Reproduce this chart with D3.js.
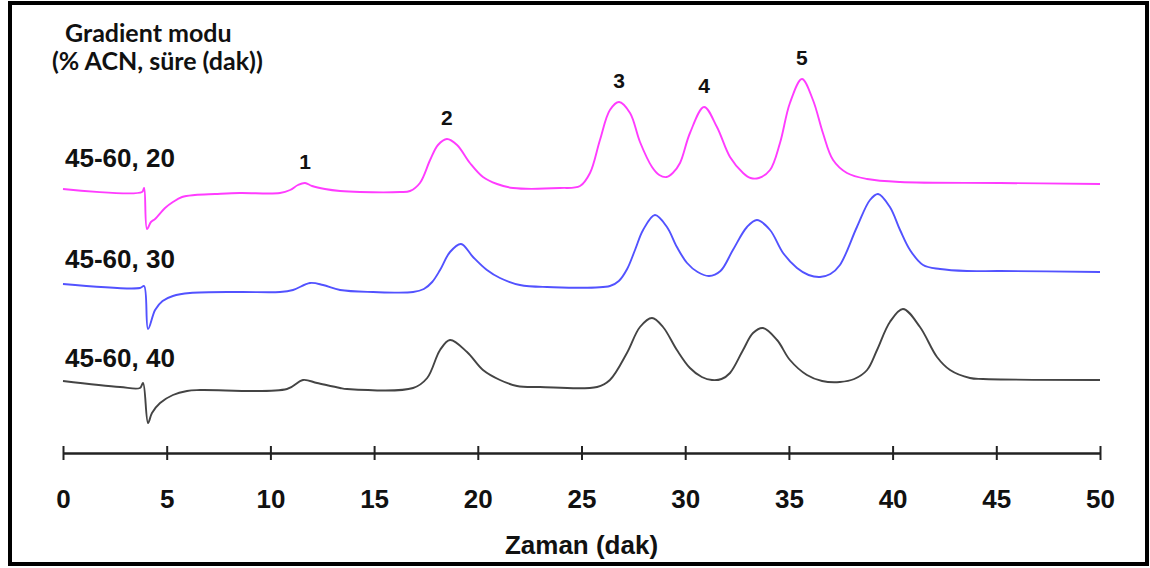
<!DOCTYPE html>
<html>
<head>
<meta charset="utf-8">
<script src="https://cdn.jsdelivr.net/npm/d3@7"></script>
<style>
  html, body { margin: 0; padding: 0; background: #fff; }
  svg { display: block; }
</style>
</head>
<body>
<svg id="chart" width="1150" height="568"></svg>
<script>
// ---- Data (time in min, signal in arbitrary mAU relative to each trace baseline) ----
const traceLabels = ["45-60, 20", "45-60, 30", "45-60, 40"];
const traceColors = ["#ff3cff", "#5252ff", "#444444"];
const traceOffsets = [131, 80.5, 31];

const trace20 = [
  [0.0,-0.5],[3.81,-2],[3.91,0],[4.05,-20.5],[4.24,-17],[4.44,-15.5],[4.92,-10],[5.30,-7],
  [5.74,-4.5],[6.36,-3.5],[7.33,-3],[8.53,-2.5],[10.46,-2.5],[10.95,-1],[11.33,1.5],[11.67,2.5],
  [12.01,1],[12.63,-0.5],[13.36,-1.5],[14.32,-2],[16.25,-2],[16.73,-1.5],[17.21,2.5],[17.70,14],
  [18.08,21.5],[18.51,24.5],[19.00,21.5],[19.62,12.5],[20.25,5.5],[20.93,2],[21.70,0],[23.96,0],
  [24.93,1],[25.41,7.5],[25.89,24],[26.37,39],[26.81,43],[27.34,37.5],[27.82,23],[28.40,10.5],
  [28.75,6.5],[29.10,5.5],[29.40,7.5],[29.75,12.5],[30.23,27.5],[30.91,40.5],[31.53,30.5],
  [32.16,15.5],[32.79,7.5],[33.15,5],[33.55,5],[34.09,9],[34.57,22.5],[35.05,42.5],[35.63,54.5],
  [36.16,44],[36.64,27.5],[37.13,14],[37.80,7.5],[38.77,4.5],[40.36,3],[45.18,2.5],[50.0,2]
];
const trace30 = [
  [0.0,2.5],[3.71,0.5],[3.91,1.5],[4.10,-20],[4.44,-10.5],[4.80,-6],[5.30,-3.5],[6.12,-2],
  [8.53,-1.5],[10.46,-1.5],[11.09,-0.5],[11.91,3],[12.54,2],[13.36,-0.5],[14.95,-1.5],[16.88,-1.5],
  [17.40,0],[17.80,3.5],[18.18,9.5],[18.66,18.5],[19.19,22.5],[19.77,16],[20.44,9.5],[21.07,5.5],
  [22.03,2],[23.34,1],[26.37,1.5],[26.80,4],[27.20,10],[27.58,19.5],[27.97,29.5],[28.54,37],
  [29.12,31],[29.60,21],[30.09,13],[30.60,8.5],[31.15,6.5],[31.70,9],[32.30,19.5],[32.98,31],
  [33.46,34.5],[34.09,29.5],[34.72,18],[35.39,10.5],[35.95,7],[36.50,6],[37.00,7.5],[37.46,12],
  [38.28,31],[38.91,44.5],[39.30,47.5],[39.87,41],[40.36,29.5],[40.84,19.5],[41.47,12],[42.29,10],
  [43.59,9],[45.18,9],[50.0,8.5]
];
const trace40 = [
  [0.0,3.5],[2.75,0.5],[3.71,0],[3.86,2.5],[4.10,-17.5],[4.29,-12.5],[4.68,-7.5],[5.30,-3.5],
  [5.98,-1.5],[6.61,-1],[10.80,-0.5],[11.57,4],[12.25,2.5],[13.36,0],[13.69,-0.5],[16.88,0],
  [17.56,5],[18.18,19],[18.66,24],[19.48,18],[20.25,9],[21.07,4],[21.89,1],[23.0,0.5],[25.75,0.5],
  [26.37,4],[27.19,17.5],[27.82,30.5],[28.40,35],[28.93,30.5],[29.60,19],[30.23,10],[30.80,5.5],
  [31.29,4],[31.75,4.5],[32.16,7.5],[32.79,19],[33.27,27.5],[33.75,30],[34.43,24],[35.05,14],
  [35.87,6.5],[36.60,3.5],[37.46,3],[38.15,4.5],[38.77,9],[39.25,19],[39.87,33],[40.50,39.5],
  [41.32,30.5],[42.14,15.5],[42.77,9],[43.73,5],[44.36,4.5],[50.0,4]
];
const traces = [trace20, trace30, trace40];

const peakNumbers = ["1", "2", "3", "4", "5"];
const peakTimes = [11.67, 18.51, 26.81, 30.91, 35.63];
const peakHeights = [2.5, 24.5, 43, 40.5, 54.5];

const xTicks = [0, 5, 10, 15, 20, 25, 30, 35, 40, 45, 50];
const xTitle = "Zaman (dak)";
const legendTitle = ["Gradient modu", "(% ACN, süre (dak))"];

// ---- Drawing ----
const svg = d3.select("#chart");
const x = d3.scaleLinear().domain([0, 50]).range([63, 1100]);
const y = d3.scaleLinear().domain([0, 200]).range([450, 50]);
const font = "'Liberation Sans', Arial, sans-serif";

// frame
svg.append("rect")
  .attr("x", 10).attr("y", 3).attr("width", 1137).attr("height", 561)
  .attr("fill", "none").attr("stroke", "#000").attr("stroke-width", 4);

// legend title
svg.append("g").selectAll("text").data(legendTitle).join("text")
  .attr("x", (d, i) => i === 0 ? 65 : 52)
  .attr("y", (d, i) => i === 0 ? 42 : 70)
  .attr("font-family", "Lato, 'Open Sans', sans-serif")
  .attr("font-weight", "bold")
  .attr("font-size", 25)
  .attr("fill", "#111")
  .text(d => d);

// traces
const line = d3.line()
  .x(d => x(d[0]))
  .curve(d3.curveCatmullRom.alpha(0.5));

traces.forEach((tr, i) => {
  svg.append("path")
    .datum(tr)
    .attr("fill", "none")
    .attr("stroke", traceColors[i])
    .attr("stroke-width", 1.9)
    .attr("stroke-linejoin", "round")
    .attr("d", line.y(d => y(traceOffsets[i] + d[1])));
});

// trace labels
svg.append("g").selectAll("text").data(traceLabels).join("text")
  .attr("x", 65)
  .attr("y", (d, i) => y(traceOffsets[i]) - 21)
  .attr("font-family", font)
  .attr("font-weight", "bold")
  .attr("font-size", 26)
  .attr("fill", "#111")
  .text(d => d);

// peak labels
svg.append("g").selectAll("text").data(peakNumbers).join("text")
  .attr("x", (d, i) => x(peakTimes[i]))
  .attr("y", (d, i) => y(traceOffsets[0] + peakHeights[i]) - 14)
  .attr("text-anchor", "middle")
  .attr("font-family", font)
  .attr("font-weight", "bold")
  .attr("font-size", 21)
  .attr("fill", "#111")
  .text(d => d);

// x axis
const axisY = 453;
const axis = d3.axisBottom(x).tickValues(xTicks).tickSizeInner(7).tickSizeOuter(0).tickPadding(30);
const gx = svg.append("g").attr("transform", `translate(0,${axisY})`).call(axis);
gx.select(".domain").attr("stroke", "#222").attr("stroke-width", 2.5);
gx.selectAll(".tick line").attr("y1", -7).attr("y2", 7).attr("stroke", "#222").attr("stroke-width", 2);
gx.selectAll(".tick text")
  .attr("font-family", font)
  .attr("font-weight", "bold")
  .attr("font-size", 26)
  .attr("fill", "#111");

svg.append("text")
  .attr("x", x(25))
  .attr("y", 554)
  .attr("text-anchor", "middle")
  .attr("font-family", font)
  .attr("font-weight", "bold")
  .attr("font-size", 26)
  .attr("fill", "#111")
  .text(xTitle);
</script>
</body>
</html>
